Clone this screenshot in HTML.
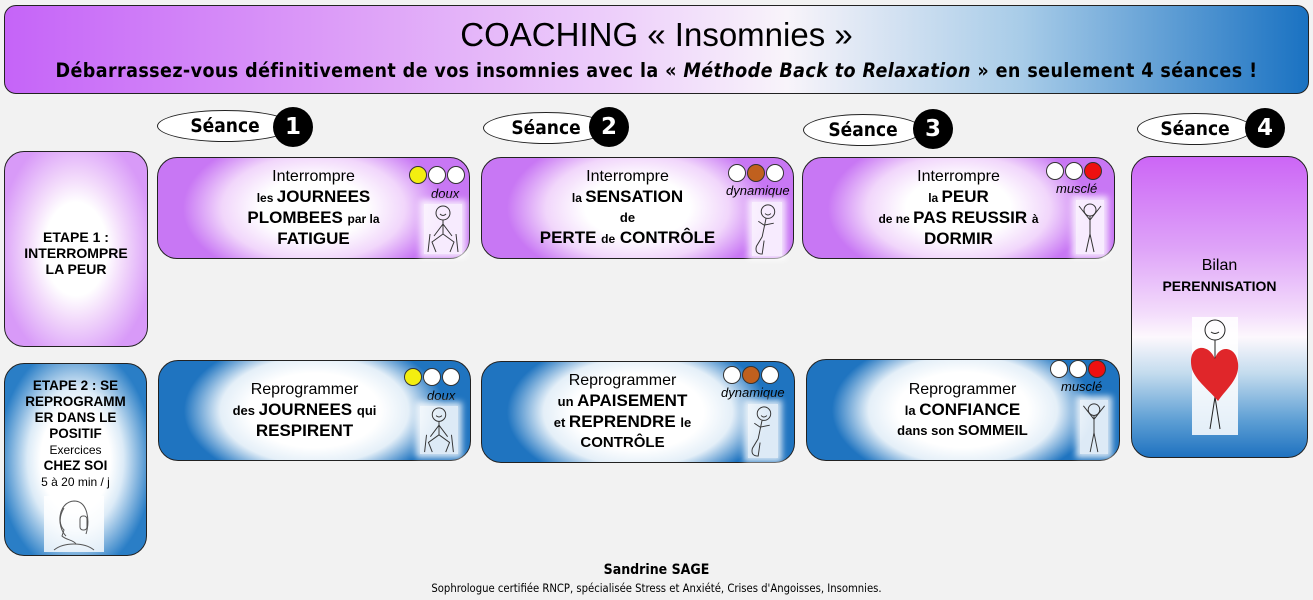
<!DOCTYPE html>
<html><head><meta charset="utf-8"><style>
body{margin:0;width:1313px;height:600px;background:#f2f2f2;position:relative;overflow:hidden;font-family:"Liberation Sans",sans-serif;color:#000}
.a{position:absolute}
.hdr{left:4px;top:5px;width:1303px;height:87px;border:1px solid #222;border-radius:12px;background:linear-gradient(90deg,#c564f8 0%,#dc9cf8 25%,#eed2fa 48%,#f8f4fa 60%,#a8cce8 78%,#1a72c2 100%)}
.title{left:0;width:1313px;top:16px;text-align:center;font-size:33px}
.sub{left:0;width:1313px;top:59px;text-align:center;font-family:"DejaVu Sans Condensed","DejaVu Sans",sans-serif;font-weight:bold;font-size:19.5px;letter-spacing:0.4px}
.pill{border:1px solid #222;border-radius:50%;background:#fff;height:30px;font-weight:bold;font-size:19px;text-align:center;line-height:30px;font-family:"DejaVu Sans Condensed","DejaVu Sans",sans-serif}
.num{width:40px;height:40px;border-radius:50%;background:#000;color:#fff;font-weight:bold;font-size:23px;text-align:center;line-height:40px;font-family:"DejaVu Sans",sans-serif}
.box{border:1px solid #222;border-radius:20px;box-sizing:border-box}
.p1{background:radial-gradient(ellipse 55% 60% at 50% 50%,#fff 40%,#f3dcfb 60%,#d89af8 100%)}
.b1{background:radial-gradient(ellipse 55% 60% at 50% 50%,#fff 45%,#dcebf7 62%,#2a7ec6 100%)}
.pc{background:radial-gradient(ellipse 42% 75% at 50% 50%,#fff 40%,#f1d6fb 70%,#c877f4 100%)}
.bc{background:radial-gradient(ellipse 42% 75% at 50% 50%,#fff 50%,#e4eff8 72%,#1f74c0 100%)}
.txt{display:flex;flex-direction:column;justify-content:center;align-items:center;text-align:center;font-weight:bold;line-height:20px}
.l{font-weight:normal;font-size:16px}
.B{font-size:17px}.s{font-size:12px}.m{font-size:13px}
.dot{width:16px;height:16px;border-radius:50%;border:1px solid #333;background:#fff;display:inline-block;margin-right:1px}
.lab{font-style:italic;font-size:13px}
.fig{background:rgba(255,255,255,.85);box-shadow:0 0 6px 4px rgba(255,255,255,.8)}
</style></head><body>
<div class="a hdr"></div>
<div class="a title">COACHING « Insomnies »</div>
<div class="a sub">Débarrassez-vous définitivement de vos insomnies avec la « <i>Méthode Back to Relaxation</i> » en seulement 4 séances !</div>

<div class="a pill" style="left:157px;top:110px;width:134px">Séance</div><div class="a num" style="left:273px;top:107px">1</div>
<div class="a pill" style="left:483px;top:112px;width:124px">Séance</div><div class="a num" style="left:589px;top:107px">2</div>
<div class="a pill" style="left:803px;top:114px;width:118px">Séance</div><div class="a num" style="left:913px;top:109px">3</div>
<div class="a pill" style="left:1137px;top:113px;width:114px">Séance</div><div class="a num" style="left:1245px;top:108px">4</div>

<div class="a box p1 txt" style="left:4px;top:151px;width:144px;height:196px;font-size:14px;line-height:16px;padding-top:8px">ETAPE 1 :<br>INTERROMPRE<br>LA PEUR</div>
<div class="a box b1" style="left:4px;top:363px;width:143px;height:193px"></div>
<div class="a txt" style="left:4px;top:378px;width:143px;font-size:13.5px;line-height:16px">ETAPE 2 : SE<br>REPROGRAMM<br>ER DANS LE<br>POSITIF<span style="font-weight:normal;font-size:12px">Exercices</span><span>CHEZ SOI</span><span style="font-weight:normal;font-size:12px">5 à 20 min / j</span></div>
<svg class="a" style="left:44px;top:496px" width="60" height="56" viewBox="0 0 60 56"><rect width="60" height="56" fill="#fff" opacity=".8"/><g fill="none" stroke="#555" stroke-width="1"><path d="M22 40 C12 30 14 6 30 5 C44 5 46 25 42 38"/><path d="M20 12 C14 22 16 30 20 34 L18 40 C22 44 30 44 32 48"/><rect x="36" y="20" width="7" height="14" rx="3"/><path d="M10 54 C20 46 40 46 50 54"/></g></svg>

<!-- row 1 -->
<div class="a box pc" style="left:157px;top:157px;width:313px;height:102px"></div>
<div class="a txt" style="left:157px;top:165px;width:313px;height:86px"><span class="l">Interrompre</span><span class="B"><span class="s">les </span>JOURNEES</span><span class="B">PLOMBEES <span class="s">par la</span></span><span class="B">FATIGUE</span></div>
<div class="a" style="left:409px;top:166px"><span class="dot" style="background:#f3ee10"></span><span class="dot"></span><span class="dot"></span></div>
<div class="a lab" style="left:431px;top:186px">doux</div>
<svg class="a fig" style="left:424px;top:204px" width="38" height="50" viewBox="0 0 38 50"><g fill="none" stroke="#333"><circle cx="19" cy="9" r="7"/><path d="M16 10 q3 3 6 0"/><path d="M19 16 L19 30 M19 20 L10 32 M19 20 L28 32 M19 30 L8 38 L12 48 M19 30 L30 38 L26 48 M6 30 L4 48 M32 30 L34 48"/></g></svg>

<div class="a box pc" style="left:481px;top:157px;width:313px;height:102px"></div>
<div class="a txt" style="left:471px;top:165px;width:313px;height:86px"><span class="l">Interrompre</span><span class="B"><span class="s">la </span>SENSATION</span><span class="m">de</span><span class="B">PERTE <span class="s">de</span> CONTRÔLE</span></div>
<div class="a" style="left:728px;top:164px"><span class="dot"></span><span class="dot" style="background:#c0601e"></span><span class="dot"></span></div>
<div class="a lab" style="left:726px;top:183px">dynamique</div>
<svg class="a fig" style="left:752px;top:202px" width="30" height="54" viewBox="0 0 30 56"><g fill="none" stroke="#333"><circle cx="16" cy="10" r="7"/><path d="M13 12 q3 3 6 0"/><path d="M14 17 L10 36 M12 24 L6 20 M12 24 L22 22 M10 36 L4 46 q-2 8 6 8 L12 40"/></g></svg>

<div class="a box pc" style="left:802px;top:157px;width:313px;height:102px"></div>
<div class="a txt" style="left:802px;top:165px;width:313px;height:86px"><span class="l">Interrompre</span><span class="B"><span class="s">la </span>PEUR</span><span class="B"><span class="s">de ne </span>PAS REUSSIR <span class="s">à</span></span><span class="B">DORMIR</span></div>
<div class="a" style="left:1046px;top:162px"><span class="dot"></span><span class="dot"></span><span class="dot" style="background:#ee1010"></span></div>
<div class="a lab" style="left:1056px;top:181px">musclé</div>
<svg class="a fig" style="left:1076px;top:200px" width="28" height="54" viewBox="0 0 28 54"><g fill="none" stroke="#333"><circle cx="14" cy="10" r="6"/><path d="M14 16 L14 34 M14 20 L3 6 M14 20 L25 6 M14 34 L10 52 M14 34 L18 52"/></g></svg>

<!-- row 2 -->
<div class="a box bc" style="left:158px;top:360px;width:313px;height:101px"></div>
<div class="a txt" style="left:148px;top:382px;width:313px;height:56px"><span class="l">Reprogrammer</span><span class="B"><span class="m">des </span>JOURNEES <span class="m">qui</span></span><span class="B">RESPIRENT</span></div>
<div class="a" style="left:404px;top:368px"><span class="dot" style="background:#f3ee10"></span><span class="dot"></span><span class="dot"></span></div>
<div class="a lab" style="left:427px;top:388px">doux</div>
<svg class="a fig" style="left:420px;top:406px" width="38" height="48" viewBox="0 0 38 50"><g fill="none" stroke="#333"><circle cx="19" cy="9" r="7"/><path d="M16 10 q3 3 6 0"/><path d="M19 16 L19 30 M19 20 L10 32 M19 20 L28 32 M19 30 L8 38 L12 48 M19 30 L30 38 L26 48 M6 30 L4 48 M32 30 L34 48"/></g></svg>

<div class="a box bc" style="left:481px;top:361px;width:314px;height:102px"></div>
<div class="a txt" style="left:466px;top:376px;width:313px;height:72px"><span class="l">Reprogrammer</span><span class="B"><span class="m">un </span>APAISEMENT</span><span class="B"><span class="m">et </span>REPRENDRE <span class="m">le</span></span><span class="B" style="font-size:15px">CONTRÔLE</span></div>
<div class="a" style="left:723px;top:366px"><span class="dot"></span><span class="dot" style="background:#c0601e"></span><span class="dot"></span></div>
<div class="a lab" style="left:721px;top:385px">dynamique</div>
<svg class="a fig" style="left:748px;top:404px" width="30" height="54" viewBox="0 0 30 56"><g fill="none" stroke="#333"><circle cx="16" cy="10" r="7"/><path d="M13 12 q3 3 6 0"/><path d="M14 17 L10 36 M12 24 L6 20 M12 24 L22 22 M10 36 L4 46 q-2 8 6 8 L12 40"/></g></svg>

<div class="a box bc" style="left:806px;top:359px;width:314px;height:102px"></div>
<div class="a txt" style="left:806px;top:382px;width:313px;height:56px"><span class="l">Reprogrammer</span><span class="B"><span class="m">la </span>CONFIANCE</span><span class="m">dans son <span style="font-size:15px">SOMMEIL</span></span></div>
<div class="a" style="left:1050px;top:360px"><span class="dot"></span><span class="dot"></span><span class="dot" style="background:#ee1010"></span></div>
<div class="a lab" style="left:1061px;top:379px">musclé</div>
<svg class="a fig" style="left:1080px;top:400px" width="28" height="54" viewBox="0 0 28 56"><g fill="none" stroke="#333"><circle cx="14" cy="10" r="6"/><path d="M14 16 L14 34 M14 20 L3 6 M14 20 L25 6 M14 34 L10 54 M14 34 L18 54"/></g></svg>

<!-- bilan -->
<div class="a box" style="left:1131px;top:156px;width:177px;height:302px;background:linear-gradient(180deg,#cc66f6 0%,#dea2f8 30%,#f3dcfb 52%,#fdf8fd 60%,#c4dcee 72%,#5c9ed4 88%,#1f72c0 100%)"></div>
<div class="a txt" style="left:1131px;top:256px;width:177px;font-size:14px;line-height:20px"><span class="l" style="font-size:16px">Bilan</span>PERENNISATION</div>
<svg class="a" style="left:1188px;top:317px" width="54" height="118" viewBox="0 0 54 118"><rect x="4" width="46" height="118" fill="#fff" opacity=".85"/><g fill="none" stroke="#222"><circle cx="27" cy="13" r="10"/><path d="M23 15 q4 3 8 0"/><path d="M27 23 L27 80 M27 80 L22 112 M27 80 L32 112"/></g><path d="M27 42 C20 24 -2 28 4 52 C8 64 22 74 30 84 C38 72 52 62 50 46 C48 28 30 28 27 42Z" fill="#e0262a"/></svg>

<div class="a" style="left:0;width:1313px;top:562px;text-align:center;font-family:'DejaVu Sans Condensed','DejaVu Sans',sans-serif;font-weight:bold;font-size:14px">Sandrine SAGE</div>
<div class="a" style="left:0;width:1313px;top:582px;text-align:center;font-family:'DejaVu Sans Condensed','DejaVu Sans',sans-serif;font-size:11.2px">Sophrologue certifiée RNCP, spécialisée Stress et Anxiété, Crises d'Angoisses, Insomnies.</div>
</body></html>
